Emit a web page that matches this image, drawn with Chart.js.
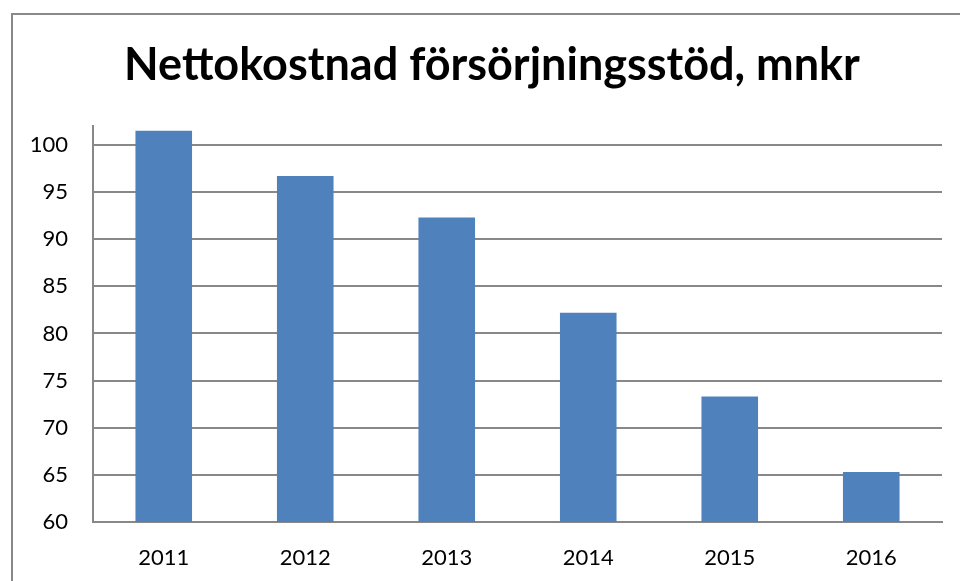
<!DOCTYPE html>
<html>
<head>
<meta charset="utf-8">
<script src="https://cdn.jsdelivr.net/npm/chart.js@4"></script>
<style>
  html, body { margin: 0; padding: 0; background: #fff; overflow: hidden; }
  #frame { position: absolute; left: 11px; top: 13px; width: 1000px; height: 700px;
           border-left: 2px solid #898989; border-top: 2px solid #898989; }
  #wrap { position: absolute; left: 0; top: 0; width: 960px; height: 581px; }
</style>
</head>
<body>
<div id="frame"></div>
<div id="wrap"><canvas id="chartCanvas"></canvas></div>
<script>
var titleText = "Nettokostnad försörjningsstöd, mnkr";
var years = ["2011", "2012", "2013", "2014", "2015", "2016"];
var netCost = [101.5, 96.7, 92.3, 82.2, 73.3, 65.3];
var yTicks = [60, 65, 70, 75, 80, 85, 90, 95, 100];
var yMin = 60;
var yMax = 102;

var gridGray = "#888888";
var fontName = "Lato";

// the original title sits a bit right of the plot centre, so draw it ourselves
var titlePlugin = {
    id: "offsetTitle",
    afterDraw: function(chart) {
        var c = chart.ctx;
        c.save();
        c.font = "bold 45px " + fontName;
        c.fillStyle = "#000";
        c.textAlign = "center";
        c.textBaseline = "alphabetic";
        c.fillText(titleText, 492, 80);
        c.restore();
    }
};

var ctx = document.getElementById("chartCanvas").getContext("2d");
var chart = new Chart(ctx, {
    type: "bar",
    data: {
        labels: years,
        datasets: [{
            data: netCost,
            backgroundColor: "#4f81bd",
            borderWidth: 0,
            barPercentage: 0.4,
            categoryPercentage: 1.0
        }]
    },
    plugins: [titlePlugin],
    options: {
        responsive: true,
        maintainAspectRatio: false,
        animation: false,
        layout: { padding: { left: 0, right: 18, top: 126, bottom: 0 } },
        plugins: {
            legend: { display: false },
            tooltip: { enabled: false },
            title: { display: false }
        },
        scales: {
            x: {
                grid: { display: false, drawTicks: false },
                border: { display: true, color: gridGray, width: 2 },
                ticks: { color: "#000", font: { family: fontName, size: 22 }, padding: 23 },
                afterFit: function(scale) { scale.height = 59; }
            },
            y: {
                min: yMin,
                max: yMax,
                grid: { color: gridGray, lineWidth: 2, drawTicks: false },
                border: { display: true, color: gridGray, width: 2 },
                ticks: { color: "#000", font: { family: fontName, size: 22 }, padding: 25 },
                afterBuildTicks: function(axis) {
                    axis.ticks = yTicks.map(function(v) { return { value: v }; });
                },
                afterFit: function(scale) { scale.width = 93; }
            }
        }
    }
});
</script>
</body>
</html>
